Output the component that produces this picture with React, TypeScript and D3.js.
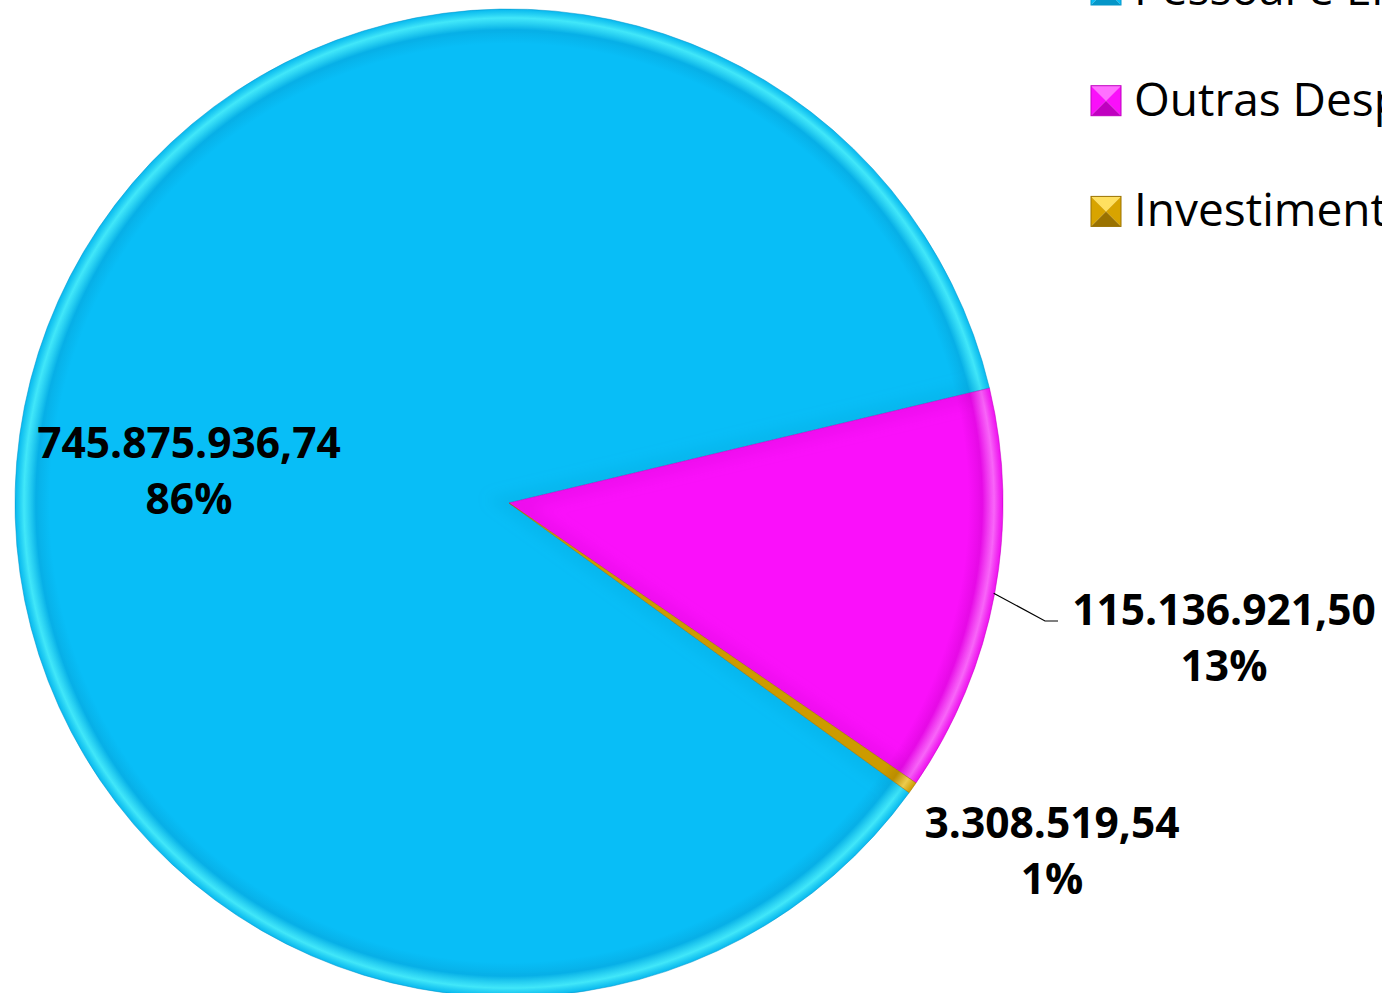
import React from "react";
import * as d3 from "d3";

const categories = ["Pessoal e Encargos", "Outras Despesas Correntes", "Investimentos"];
const values = [745875936.74, 115136921.5, 3308519.54];
const valueLabels = ["745.875.936,74", "115.136.921,50", "3.308.519,54"];
const percentLabels = ["86%", "13%", "1%"];

const colors = ["#08BEF7", "#FA10FA", "#D8A400"];
const lightColors = ["#48F0FF", "#FF70FF", "#FFE060"];
const darkColors = ["#0596C8", "#C000C0", "#9A7200"];

const W = 1382;
const H = 993;
const cx = 509;
const cy = 503;
const R = 494;
const startDeg = 125.9;

export default function App() {
  const pie = d3
    .pie<number>()
    .sort(null)
    .value((d) => d)
    .startAngle((startDeg * Math.PI) / 180)
    .endAngle((startDeg * Math.PI) / 180 + 2 * Math.PI);
  const arcs = pie(values);
  const arcGen = d3.arc<d3.PieArcDatum<number>>().innerRadius(0).outerRadius(R);

  const labelPos = [
    { x: 189, y: 458 },
    { x: 1224, y: 625 },
    { x: 1052, y: 838 },
  ];
  const lineH = 56;

  const legendX = 1091;
  const legendY0 = -25;
  const legendStep = 110.7;
  const sq = 30;

  const outras = arcs[1];
  const midO = (outras.startAngle + outras.endAngle) / 2;
  const lx = cx + Math.sin(midO) * (R - 1);
  const ly = cy - Math.cos(midO) * (R - 1);

  return (
    <div style={{ position: "absolute", left: 0, top: 0 }}>
      <svg width={W} height={H} style={{ display: "block", background: "#fff" }}>
        <defs>
          {arcs.map((a, i) => (
            <radialGradient
              key={i}
              id={`rg${i}`}
              gradientUnits="userSpaceOnUse"
              cx={0}
              cy={0}
              r={R}
            >
              <stop offset="0" stopColor={colors[i]} />
              <stop offset="0.93" stopColor={colors[i]} />
              <stop offset="0.958" stopColor={d3.interpolateRgb(colors[i], darkColors[i])(0.35)} />
              <stop offset="0.982" stopColor={lightColors[i]} />
              <stop offset="1" stopColor={colors[i]} />
            </radialGradient>
          ))}
          {arcs.map((a, i) => (
            <clipPath key={i} id={`cp${i}`}>
              <path d={arcGen(a) || ""} />
            </clipPath>
          ))}
          <filter id="blur" x="-10%" y="-10%" width="120%" height="120%">
            <feGaussianBlur stdDeviation="7" />
          </filter>
        </defs>
        <g transform={`translate(${cx},${cy})`}>
          {arcs.map((a, i) => (
            <g key={i}>
              <path d={arcGen(a) || ""} fill={`url(#rg${i})`} />
              <g clipPath={`url(#cp${i})`}>
                <path
                  d={arcGen(a) || ""}
                  fill="none"
                  stroke={darkColors[i]}
                  strokeOpacity={0.2}
                  strokeWidth={18}
                  filter="url(#blur)"
                />
              </g>
              <path
                d={arcGen(a) || ""}
                fill="none"
                stroke={darkColors[i]}
                strokeOpacity={0.5}
                strokeWidth={1}
              />
            </g>
          ))}
        </g>
        <polyline
          points={`${lx},${ly} 1045,621 1058,621`}
          fill="none"
          stroke="#000"
          strokeWidth={1.2}
        />
        {valueLabels.map((v, i) => (
          <text
            key={i}
            x={labelPos[i].x}
            y={labelPos[i].y}
            textAnchor="middle"
            fontFamily="'Open Sans', sans-serif"
            fontWeight={700}
            fontSize={42.5}
            fill="#000"
          >
            <tspan x={labelPos[i].x} y={labelPos[i].y}>{v}</tspan>
            <tspan x={labelPos[i].x} y={labelPos[i].y + lineH}>{percentLabels[i]}</tspan>
          </text>
        ))}
        {categories.map((c, i) => {
          const y = legendY0 + i * legendStep;
          const x = legendX;
          const m = sq / 2;
          return (
            <g key={c}>
              <polygon points={`${x},${y} ${x + sq},${y} ${x + m},${y + m}`} fill={lightColors[i]} />
              <polygon points={`${x},${y} ${x + m},${y + m} ${x},${y + sq}`} fill={colors[i]} />
              <polygon points={`${x + sq},${y} ${x + sq},${y + sq} ${x + m},${y + m}`} fill={colors[i]} />
              <polygon points={`${x},${y + sq} ${x + sq},${y + sq} ${x + m},${y + m}`} fill={darkColors[i]} />
              <rect x={x} y={y} width={sq} height={sq} fill="none" stroke={darkColors[i]} strokeWidth={1} />
              <text
                x={1134}
                y={y + 30}
                fontFamily="'Open Sans', sans-serif"
                fontSize={46}
                fill="#000"
              >
                {c}
              </text>
            </g>
          );
        })}
      </svg>
    </div>
  );
}
